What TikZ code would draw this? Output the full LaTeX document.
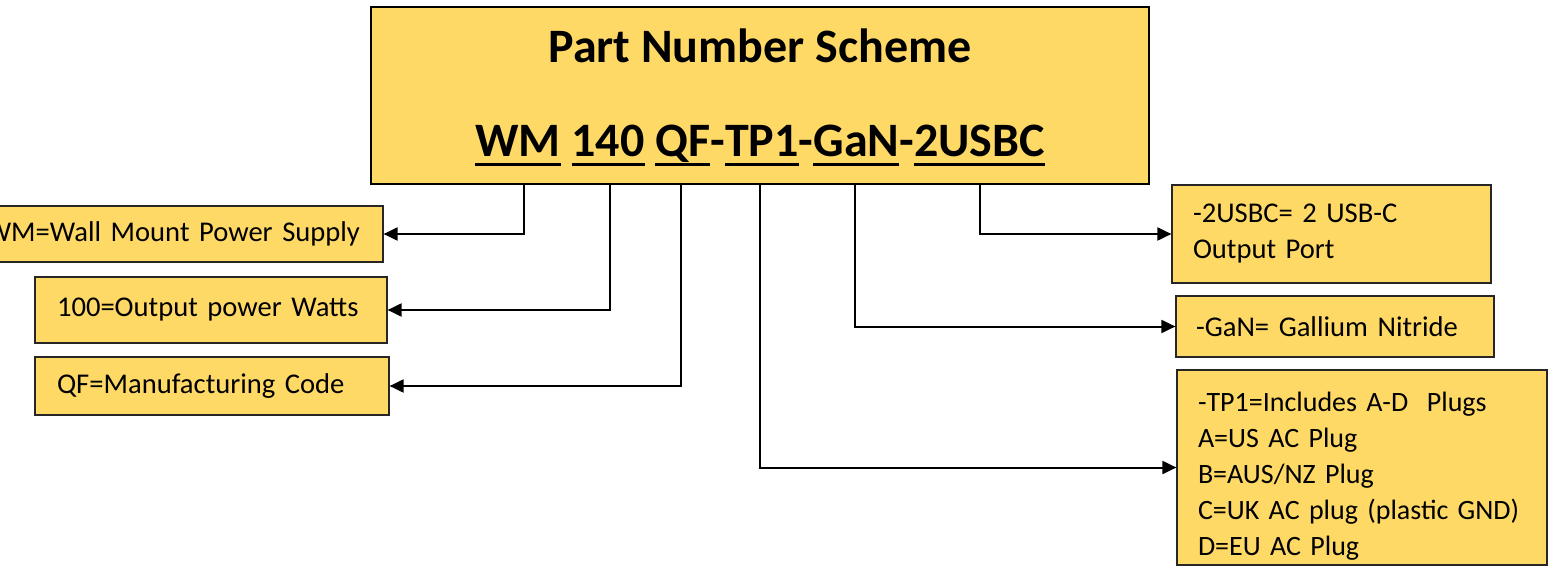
\documentclass[tikz,border=0pt]{standalone}
\usepackage{fontspec}
\setmainfont{Carlito}
\usetikzlibrary{arrows.meta}
\definecolor{boxgold}{RGB}{255,217,102}
\newcommand\pnul[1]{\setbox0\hbox{#1}\rlap{\rule[-4.5pt]{\wd0}{1.5pt}}\box0\relax}

\tikzset{
  partbox/.style={draw=black!85, fill=boxgold, line width=0.6pt, inner xsep=#1,
    inner ysep=0pt, align=left, font=\fontsize{14.3}{18}\selectfont},
  conn/.style={line width=1pt, -{Triangle[length=7pt,width=6.5pt]}},
  headtext/.style={anchor=base, font=\fontsize{24}{28}\selectfont\bfseries},
}

\begin{document}
\begin{tikzpicture}[x=0.5pt, y=-0.5pt]
  \clip (0,0) rectangle (1554,567);
  \fill[white] (0,0) rectangle (1554,567);

  \node[draw, fill=boxgold, line width=0.75pt, minimum width=389pt, minimum height=88.5pt] (main) at (760,95.5) {};
  \node[headtext] (title) at (760,63) {Part Number Scheme};
  \node[headtext] (pn) at (760,157) {\pnul{WM} \pnul{140} \pnul{QF}-\pnul{TP1}-\pnul{GaN}-\pnul{2USBC}};

  \node[partbox=11.5pt, align=right, text width=215pt, minimum height=28pt] (wm) at (145,234) {WM=Wall Mount Power Supply};
  \node[partbox=11pt, text width=154pt, minimum height=33pt] (pw) at (211,310) {100=Output power Watts};
  \node[partbox=11pt, text width=155pt, minimum height=29pt] (qf) at (212,386) {QF=Manufacturing Code};
  \node[partbox=10.5pt, text width=138.5pt, minimum height=49pt] (usb) at (1331.5,234) {-2USBC= 2 USB-C\\Output Port};
  \node[partbox=10pt, text width=139pt, minimum height=30.5pt] (gan) at (1335,326.5) {-GaN= Gallium Nitride};
  \node[partbox=10.5pt, text width=164pt, minimum height=97.5pt, font=\fontsize{14}{18}\selectfont] (tp) at (1362,467.5)
    {\rule{0pt}{18pt}-TP1=Includes A-D\ \ Plugs\\A=US AC Plug\\B=AUS/NZ Plug\\C=UK AC plug (plastic GND)\\D=EU AC Plug};

  \coordinate (cwm) at (524,184);
  \coordinate (cpw) at (610,184);
  \coordinate (cqf) at (681,184);
  \coordinate (ctp) at (760,184);
  \coordinate (cgan) at (855,184);
  \coordinate (cusb) at (980,184);

  \draw[conn] (cwm) |- (wm.east);
  \draw[conn] (cpw) |- (pw.east);
  \draw[conn] (cqf) |- (qf.east);
  \draw[conn] (ctp) |- (tp.west);
  \draw[conn] (cgan) |- (gan.west);
  \draw[conn] (cusb) |- (usb.west);
\end{tikzpicture}
\end{document}
